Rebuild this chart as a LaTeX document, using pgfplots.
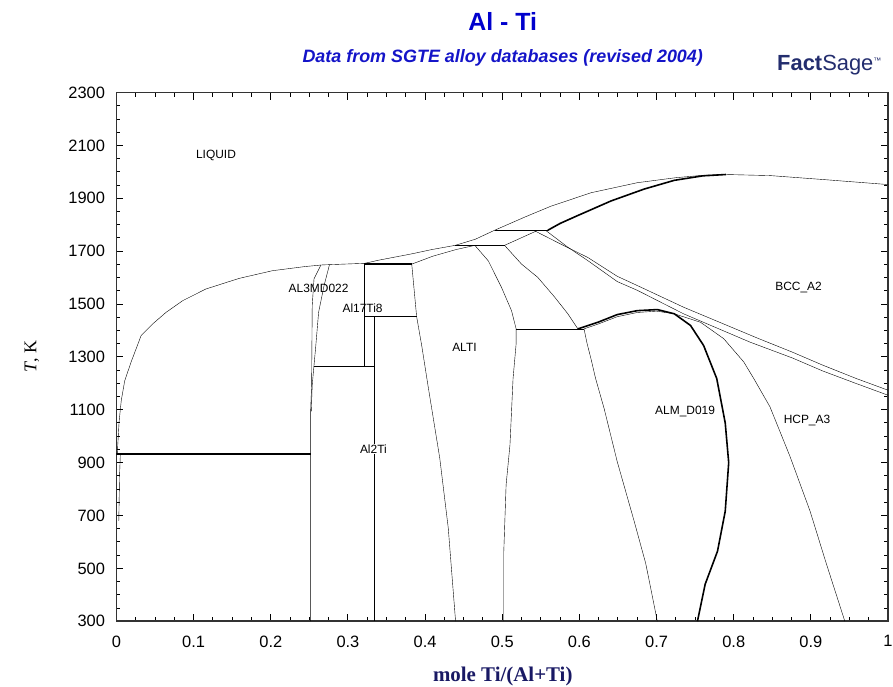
\documentclass[border=0pt]{standalone}
\usepackage{pgfplots}
\pgfplotsset{compat=1.18}
\usepackage{fontspec}
\setmainfont{Liberation Sans}
\newfontfamily\seriffont{Liberation Serif}
\definecolor{titleblue}{RGB}{0,0,205}
\definecolor{subblue}{RGB}{20,20,200}
\definecolor{navy}{RGB}{25,25,100}
\definecolor{logoblue}{RGB}{35,45,110}
\begin{document}
\begin{tikzpicture}
\begin{axis}[
  at={(0,0)}, anchor=south west,
  scale only axis, width=775pt, height=531pt,
  xmin=0, xmax=1, ymin=300, ymax=2300,
  xtick={0,0.1,0.2,0.3,0.4,0.5,0.6,0.7,0.8,0.9,1},
  xticklabels={0,0.1,0.2,0.3,0.4,0.5,0.6,0.7,0.8,0.9,1},
  ytick={300,500,700,900,1100,1300,1500,1700,1900,2100,2300},
  yticklabels={300,500,700,900,1100,1300,1500,1700,1900,2100,2300},
  minor x tick num=3, minor y tick num=3,
  tick align=inside,
  major tick length=7pt, minor tick length=4pt,
  axis line style={line width=1.6pt, black!80},
  every tick/.style={black, line width=1pt},
  ticklabel style={font=\fontsize{16.5}{18}\selectfont},
  xticklabel style={yshift=-11pt},
  yticklabel style={xshift=-8pt},
  cycle list={{black, solid, line width=1.6pt, mark=none, line join=round}},
]
% liquidus
\addplot coordinates {(0.001,932)(0.0034,1055)(0.0062,1135)(0.0107,1210)(0.019,1281)(0.032,1381)(0.047,1425)(0.0645,1469)(0.086,1513)(0.116,1557)(0.159,1597)(0.202,1626)(0.245,1642)(0.267,1648)(0.3217,1654)(0.34,1666)(0.383,1690)(0.4085,1706)(0.439,1722)(0.465,1745)(0.490,1779)(0.53,1830)(0.563,1870)(0.615,1921)(0.675,1959)(0.725,1978)(0.76,1987)(0.79,1990)(0.847,1986)(0.916,1971)(1.0,1952)};
% Al solvus
\addplot coordinates {(0.005,932)(0.004,850)(0.003,680)};
% eutectic
\addplot coordinates {(0.0,932)(0.2516,932)};
% Al3Ti boundaries
\addplot coordinates {(0.265,1648)(0.256,1595)(0.2537,1494)(0.2529,1193)(0.2516,1094)(0.2516,300)};
\addplot coordinates {(0.276,1648)(0.269,1569)(0.262,1469)(0.258,1331)(0.256,1268)(0.2537,1193)(0.2525,1094)};
\addplot coordinates {(0.256,1266)(0.3346,1266)};
\addplot coordinates {(0.3217,1654)(0.3217,1266)};
\addplot coordinates {(0.3217,1651)(0.3827,1651)};
\addplot coordinates {(0.3217,1453)(0.389,1453)};
\addplot coordinates {(0.3346,1453)(0.3346,300)};
% ALTI
\addplot coordinates {(0.3827,1651)(0.389,1453)(0.3956,1343)(0.404,1187)(0.419,917)(0.430,653)(0.4395,300)};
\addplot coordinates {(0.3827,1651)(0.41,1681)(0.44,1706)(0.4645,1722)};
\addplot coordinates {(0.439,1722)(0.503,1722)};
\addplot coordinates {(0.4645,1722)(0.482,1663)(0.499,1563)(0.512,1475)(0.518,1406)(0.518,1350)(0.514,1218)(0.510,967)(0.505,816)(0.502,565)(0.502,300)};
\addplot coordinates {(0.503,1722)(0.544,1776)};
\addplot coordinates {(0.503,1722)(0.525,1651)(0.546,1601)(0.568,1526)(0.585,1463)(0.598,1406)};
% BCC
\addplot coordinates {(0.490,1779)(0.559,1779)};
\addplot coordinates {(0.559,1779)(0.575,1805)(0.598,1835)(0.641,1890)(0.684,1935)(0.723,1968)(0.76,1985)(0.79,1990)};
\addplot coordinates {(0.542,1777)(0.575,1728)(0.611,1676)(0.649,1605)(0.675,1570)(0.735,1488)(0.83,1372)(0.876,1318)(0.916,1268)(0.959,1218)(1.0,1174)};
\addplot coordinates {(0.557,1777)(0.585,1715)(0.611,1664)(0.649,1585)(0.675,1552)(0.735,1463)(0.821,1356)(0.876,1296)(0.916,1246)(0.959,1199)(1.0,1155)};
% 1406 line and ALM_D019
\addplot coordinates {(0.518,1406)(0.606,1406)};
\addplot coordinates {(0.606,1406)(0.610,1350)(0.615,1293)(0.621,1218)(0.632,1105)(0.649,904)(0.671,678)(0.686,518)(0.701,300)};
\addplot coordinates {(0.598,1406)(0.624,1431)(0.649,1460)(0.675,1475)(0.701,1479)(0.723,1463)(0.744,1419)(0.761,1343)(0.778,1218)(0.789,1050)(0.7935,900)(0.789,716)(0.779,565)(0.763,440)(0.753,300)};
\addplot coordinates {(0.606,1406)(0.624,1424)(0.649,1452)(0.675,1468)(0.70,1473)(0.723,1463)};
\addplot coordinates {(0.723,1463)(0.757,1431)(0.787,1369)(0.813,1281)(0.826,1218)(0.847,1111)(0.873,923)(0.899,716)(0.920,518)(0.944,300)};
% phase labels
\begin{scope}[every node/.style={font=\fontsize{12}{13}\selectfont, fill=white, inner sep=0.5pt}]
\node at (axis cs:0.129,2061) {LIQUID};
\node[fill=none] at (axis cs:0.262,1561) {AL3MD022};
\node[fill=none] at (axis cs:0.319,1485) {Al17Ti8};
\node at (axis cs:0.451,1335) {ALTI};
\node at (axis cs:0.333,951) {Al2Ti};
\node at (axis cs:0.737,1094) {ALM\_D019};
\node at (axis cs:0.895,1060) {HCP\_A3};
\node at (axis cs:0.884,1564) {BCC\_A2};
\end{scope}
\end{axis}
% titles and labels
\node[font=\fontsize{25}{27}\selectfont\bfseries, text=titleblue] at (388pt,602pt) {Al - Ti};
\node[font=\fontsize{18}{20}\selectfont\bfseries\itshape, text=subblue] at (388pt,566pt) {Data from SGTE alloy databases (revised 2004)};
\node[font=\fontsize{22}{23}\selectfont, text=logoblue] at (716pt,559pt) {\bfseries Fact\mdseries Sage\raisebox{7pt}{\fontsize{8}{8}\selectfont ™}};
\node[font=\seriffont\fontsize{18}{20}\selectfont, rotate=90] at (-85pt,266pt) {\textit{T}, K};
\node[font=\seriffont\fontsize{21}{23}\selectfont\bfseries, text=navy] at (388pt,-56pt) {mole Ti/(Al+Ti)};
\pgfresetboundingbox
\path (-117pt,-66pt) rectangle (780pt,624pt);
\end{tikzpicture}
\end{document}
